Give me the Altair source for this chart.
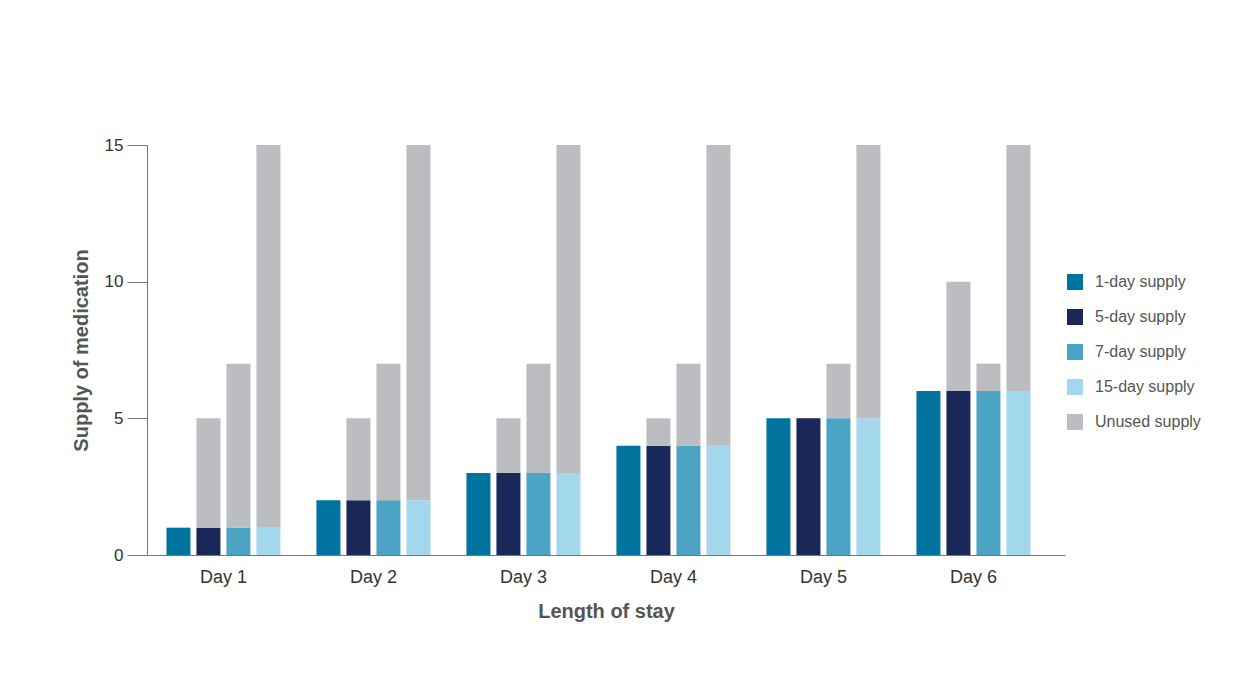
import altair as alt
import pandas as pd

days = ["Day 1", "Day 2", "Day 3", "Day 4", "Day 5", "Day 6"]
supplies = ["1-day supply", "5-day supply", "7-day supply", "15-day supply"]
used = {
    "1-day supply": [1, 2, 3, 4, 5, 6],
    "5-day supply": [1, 2, 3, 4, 5, 6],
    "7-day supply": [1, 2, 3, 4, 5, 6],
    "15-day supply": [1, 2, 3, 4, 5, 6],
}
total = {
    "1-day supply": [1, 2, 3, 4, 5, 6],
    "5-day supply": [5, 5, 5, 5, 5, 10],
    "7-day supply": [7, 7, 7, 7, 7, 7],
    "15-day supply": [15, 15, 15, 15, 15, 15],
}
segments = supplies + ["Unused supply"]
colors = ["#00739F", "#1A2759", "#4CA4C4", "#A3D8EC", "#BCBDC1"]

rows = []
for s in supplies:
    for i, d in enumerate(days):
        rows.append({"day": d, "supply": s, "segment": s, "value": used[s][i], "ord": 0})
        rows.append({"day": d, "supply": s, "segment": "Unused supply",
                     "value": total[s][i] - used[s][i], "ord": 1})
df = pd.DataFrame(rows)

FONT = "Liberation Sans"

chart = alt.Chart(df).mark_bar().encode(
    x=alt.X("day:N", sort=days,
            scale=alt.Scale(paddingInner=0.24, paddingOuter=0.18, align=0.36),
            axis=alt.Axis(title="Length of stay", labelAngle=0, ticks=False,
                          labelPadding=13, titlePadding=15,
                          domainColor="#777777", labelFontSize=18, labelColor="#333333",
                          titleFontSize=20, titleColor="#555555", titleFontWeight="bold")),
    xOffset=alt.XOffset("supply:N", sort=supplies,
                        scale=alt.Scale(paddingInner=0.2, paddingOuter=0)),
    y=alt.Y("value:Q", stack="zero",
            scale=alt.Scale(domain=[0, 15], nice=False),
            axis=alt.Axis(title="Supply of medication", values=[0, 5, 10, 15], grid=False,
                          tickSize=20, tickColor="#777777", domainColor="#777777",
                          labelPadding=4, labelFontSize=17, labelColor="#333333",
                          titlePadding=13, titleFontSize=20, titleColor="#555555",
                          titleFontWeight="bold")),
    color=alt.Color("segment:N",
                    scale=alt.Scale(domain=segments, range=colors),
                    legend=alt.Legend(title=None, orient="none", legendX=920, legendY=129,
                                      symbolType="square", symbolSize=256,
                                      symbolStrokeWidth=0, rowPadding=19,
                                      labelFontSize=16, labelColor="#555555",
                                      labelOffset=12)),
    order=alt.Order("ord:Q"),
).properties(
    width=918, height=410,
    autosize=alt.AutoSizeParams(type="none"),
    padding={"left": 147, "top": 145, "right": 185, "bottom": 125},
).configure(
    font=FONT, background="white"
).configure_view(stroke=None)

chart.save("out.html", embed_options={"renderer": "svg", "actions": False})
